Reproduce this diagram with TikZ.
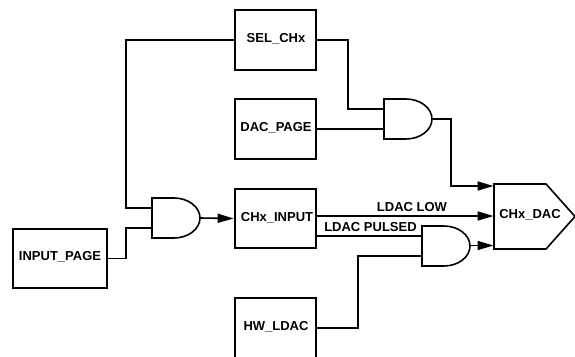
\documentclass[tikz,border=0pt]{standalone}
\usepackage{fontspec}
\setmainfont{Liberation Sans}
\usetikzlibrary{arrows.meta,calc}
\tikzset{
  wire/.style={line width=1.6pt,line join=miter},
  arrowwire/.style={wire,-{Triangle[length=16pt,width=9pt]},shorten >=0.5pt},
  blockbox/.style={draw,line width=1.7pt,minimum width=81pt,minimum height=59.5pt,inner sep=0pt},
  txt/.style={font=\fontsize{13pt}{14pt}\selectfont\bfseries,inner sep=0pt},
  gatebody/.style={minimum width=48pt,minimum height=40pt,inner sep=0pt,outer sep=0pt},
  gateline/.style={line width=1.6pt,line join=miter}
}
\newcommand{\andgate}[3]{%
  \node[gatebody] (#1) at (#2,#3) {};
  \draw[gateline] (#1.north west) -- ++(22pt,0pt)
     .. controls +(14.3pt,0pt) and +(0pt,11pt) .. (#1.east)
     .. controls +(0pt,-11pt) and +(14.3pt,0pt) .. ($(#1.south west)+(22pt,0pt)$)
     -- (#1.south west) -- cycle;
  \coordinate (#1a) at ($(#1.west)+(0pt,10pt)$);
  \coordinate (#1b) at ($(#1.west)+(0pt,-10pt)$);
}
\begin{document}
\begin{tikzpicture}[x=1pt,y=-1pt]
\useasboundingbox (0,0) rectangle (575,356);
% boxes
\node[blockbox] (sel) at (275.5,40) {};
\node[txt] at (276,39) {SEL\_CHx};
\node[blockbox] (dacp) at (275.5,129) {};
\node[txt] at (276,128) {DAC\_PAGE};
\node[blockbox] (chin) at (275.5,218.5) {};
\node[txt] at (277,218) {CHx\_INPUT};
\node[blockbox] (hw) at (275.5,328) {};
\node[txt] at (276,327) {HW\_LDAC};
\node[blockbox,minimum width=94pt] (ipage) at (60,258.5) {};
\node[txt] at (60,257) {INPUT\_PAGE};
% gates: centres
\andgate{gone}{176}{218}
\andgate{gtwo}{408}{119}
\andgate{gthree}{446}{246}
% CHx_DAC
\node[minimum width=81pt,minimum height=65pt,inner sep=0pt,outer sep=0pt] (dac) at (534.5,216.5) {};
\draw[line width=1.6pt,line join=miter] (dac.north west) -- ($(dac.north west)+(52,0)$) -- (dac.east) -- ($(dac.south west)+(52,0)$) -- (dac.south west) -- cycle;
\node[txt] at (530,215) {CHx\_DAC};
% wires
\coordinate (busx) at (126,0);
\coordinate (riseb) at (348,0);
\coordinate (risec) at (451,0);
\coordinate (risea) at (358,0);
\draw[wire] (sel.west) -| (busx |- gonea) -- (gonea);
\draw[wire] (ipage.east) -| (busx |- goneb) -- (goneb);
\draw[arrowwire] (gone.east) -- (chin.west);
\draw[wire] (sel.east) -| (riseb |- gtwoa) -- (gtwoa);
\draw[wire] (dacp.east |- gtwob) -- (gtwob);
\draw[arrowwire] (gtwo.east) -| (risec |- 0,186) -- (dac.west |- 0,186);
\draw[arrowwire] (chin.east |- 0,216) -- (dac.west |- 0,216);
\draw[wire] (chin.east |- gthreea) -- (gthreea);
\draw[wire] (hw.east) -| (risea |- gthreeb) -- (gthreeb);
\draw[arrowwire] (gthree.east |- 0,245.5) -- (dac.west |- 0,245.5);
\node[txt] at (412,207) {LDAC LOW};
\node[txt] at (370.5,227) {LDAC PULSED};
\end{tikzpicture}
\end{document}
